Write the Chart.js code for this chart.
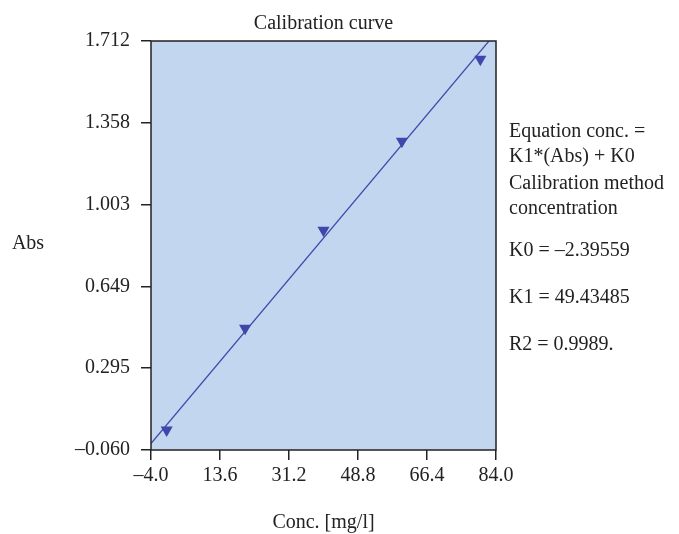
<!DOCTYPE html>
<html>
<head>
<meta charset="utf-8">
<script src="https://cdn.jsdelivr.net/npm/chart.js@4.4.1/dist/chart.umd.min.js"></script>
<style>
  html, body { margin: 0; padding: 0; background: #fff; }
  #wrap { width: 679px; height: 534px; }
</style>
</head>
<body>
<div id="wrap"><canvas id="chart" width="679" height="534"></canvas></div>
<script>
// Measured standards (conc. in mg/l, absorbance)
const concValues = [0, 20, 40, 60, 80];
const absValues = [0.027, 0.468, 0.892, 1.278, 1.633];

// Calibration line end points
const fitConc = [-4.0, 82.2];
const fitAbs = [-0.032, 1.712];

// Axis ticks
const xTicks = [-4.0, 13.6, 31.2, 48.8, 66.4, 84.0];
const xTickLabels = ['–4.0', '13.6', '31.2', '48.8', '66.4', '84.0'];
const yTicks = [-0.060, 0.2944, 0.6488, 1.0032, 1.3576, 1.712];
const yTickLabels = ['–0.060', '0.295', '0.649', '1.003', '1.358', '1.712'];

const infoLines = [
    ['Equation conc. =', 132],
    ['K1*(Abs) + K0', 157],
    ['Calibration method', 184],
    ['concentration', 209],
    ['K0 = –2.39559', 251],
    ['K1 = 49.43485', 298],
    ['R2 = 0.9989.', 345]
];

const FONT = '"Liberation Serif", "DejaVu Serif", serif';
const MARK = 'rgb(63, 72, 170)';

// Background, frame and free text
const decorPlugin = {
    id: 'decor',
    beforeDatasetsDraw(chart) {
        const a = chart.chartArea;
        const c = chart.ctx;
        c.save();
        c.fillStyle = 'rgb(194, 214, 240)';
        c.fillRect(a.left, a.top, a.right - a.left, a.bottom - a.top);
        c.restore();
    },
    afterDraw(chart) {
        const a = chart.chartArea;
        const c = chart.ctx;
        c.save();
        c.strokeStyle = '#222';
        c.lineWidth = 1.5;
        c.strokeRect(a.left, a.top, a.right - a.left, a.bottom - a.top);

        c.fillStyle = '#222';
        c.font = '20px ' + FONT;
        c.textBaseline = 'middle';
        c.textAlign = 'center';
        c.fillText('Calibration curve', (a.left + a.right) / 2, 24);
        c.fillText('Conc. [mg/l]', (a.left + a.right) / 2, 523);
        c.fillText('Abs', 28, 244);

        c.textAlign = 'left';
        infoLines.forEach(function(l) {
            c.fillText(l[0], 509, l[1]);
        });
        c.restore();
    }
};

new Chart(document.getElementById('chart'), {
    type: 'scatter',
    data: {
        datasets: [{
            type: 'line',
            data: fitConc.map((x, i) => ({ x: x, y: fitAbs[i] })),
            borderColor: MARK,
            borderWidth: 1.2,
            pointRadius: 0,
            fill: false
        }, {
            data: concValues.map((x, i) => ({ x: x, y: absValues[i] })),
            pointStyle: 'triangle',
            rotation: 180,
            pointRadius: 7,
            pointBackgroundColor: MARK,
            pointBorderColor: MARK,
            pointBorderWidth: 0
        }]
    },
    options: {
        responsive: false,
        animation: false,
        devicePixelRatio: 1,
        layout: { padding: { left: 0, right: 183, top: 41, bottom: 0 } },
        plugins: {
            legend: { display: false },
            tooltip: { enabled: false }
        },
        scales: {
            x: {
                type: 'linear',
                min: -4.0,
                max: 84.0,
                afterFit: function(scale) { scale.height = 84; },
                afterBuildTicks: function(scale) {
                    scale.ticks = xTicks.map(v => ({ value: v }));
                },
                grid: {
                    drawOnChartArea: false,
                    drawTicks: true,
                    tickLength: 10,
                    color: '#222',
                    lineWidth: 1.5
                },
                border: { display: false },
                ticks: {
                    color: '#222',
                    padding: 4,
                    maxRotation: 0,
                    font: { family: FONT, size: 20 },
                    callback: function(value, index) { return xTickLabels[index]; }
                }
            },
            y: {
                type: 'linear',
                min: -0.060,
                max: 1.712,
                afterFit: function(scale) { scale.width = 151; },
                afterBuildTicks: function(scale) {
                    scale.ticks = yTicks.map(v => ({ value: v }));
                },
                grid: {
                    drawOnChartArea: false,
                    drawTicks: true,
                    tickLength: 10,
                    color: '#222',
                    lineWidth: 1.5
                },
                border: { display: false },
                ticks: {
                    color: '#222',
                    padding: 11,
                    font: { family: FONT, size: 20 },
                    callback: function(value, index) { return yTickLabels[index]; }
                }
            }
        }
    },
    plugins: [decorPlugin]
});
</script>
</body>
</html>
